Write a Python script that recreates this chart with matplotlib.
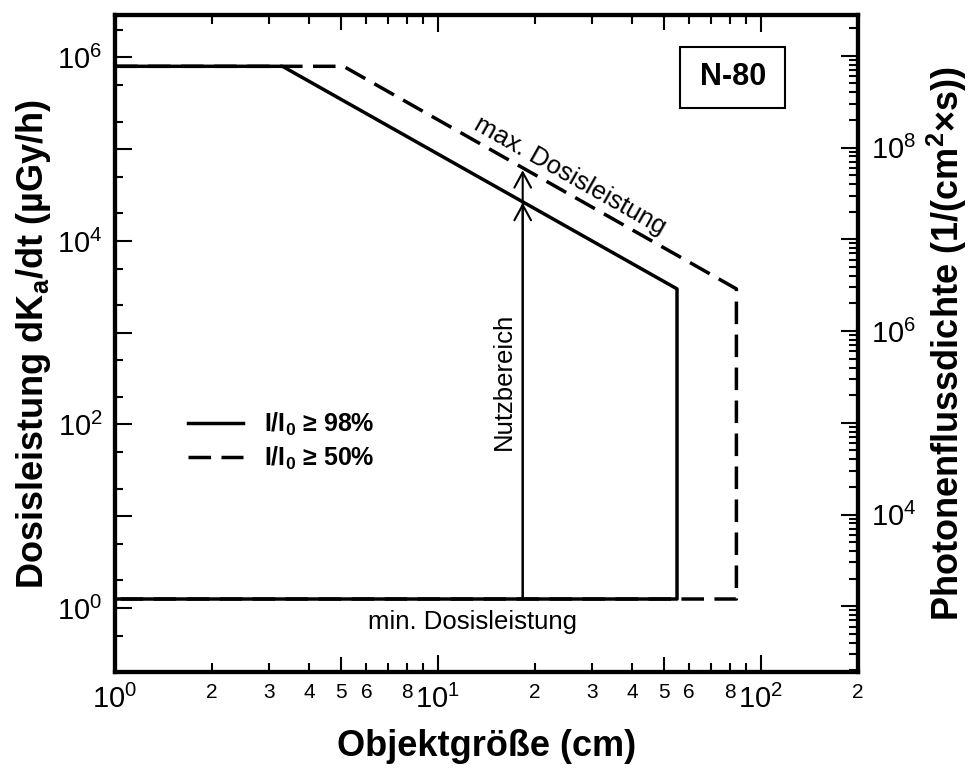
import numpy as np
import matplotlib.pyplot as plt
from matplotlib.ticker import FixedLocator, FuncFormatter, NullFormatter
from matplotlib.patches import Rectangle

plt.rcParams["font.family"] = ["Liberation Sans", "DejaVu Sans"]
plt.rcParams["mathtext.fontset"] = "custom"
plt.rcParams["mathtext.rm"] = "Liberation Sans"
plt.rcParams["mathtext.bf"] = "Liberation Sans:bold"
plt.rcParams["mathtext.it"] = "Liberation Sans:italic"
plt.rcParams["mathtext.default"] = "rm"

# Kurven (x in cm, y in uGy/h)
size_98 = [1.0, 3.3, 55.0, 55.0, 1.0]
rate_98 = [8.0e5, 8.0e5, 3.0e3, 1.25, 1.25]
size_50 = [1.0, 5.1, 84.0, 84.0, 1.0]
rate_50 = [8.0e5, 8.0e5, 3.0e3, 1.25, 1.25]
label_98 = r"I/I$_\mathbf{0}$ ≥ 98%"
label_50 = r"I/I$_\mathbf{0}$ ≥ 50%"

# Nutzbereich-Pfeil
nutz_x = 18.3
nutz_lo = 1.25
nutz_hi_98 = 2.6e4
nutz_hi_50 = 5.9e4

# Umrechnung Dosisleistung -> Photonenflussdichte
flux_factor = 960.0

x_lim = (1.0, 200.0)
y_lim = (0.2, 2.9e6)
x_minor_labeled = (2, 3, 4, 5, 6, 8)

fig = plt.figure(figsize=(9.7, 7.69), dpi=100)
ax = fig.add_axes([0.1186, 0.1261, 0.766, 0.8544])
ax.set_xscale("log")
ax.set_yscale("log")
ax.set_xlim(*x_lim)
ax.set_ylim(*y_lim)

l50, = ax.plot(size_50, rate_50, color="black", lw=2.5, dashes=(6.5, 3))
l98, = ax.plot(size_98, rate_98, color="black", lw=2.5)

for y_top in (nutz_hi_50, nutz_hi_98):
    ax.annotate("", xy=(nutz_x, y_top), xytext=(nutz_x, nutz_lo),
                arrowprops=dict(arrowstyle="->,head_length=0.55,head_width=0.3",
                                lw=1.5, color="black", shrinkA=0, shrinkB=0,
                                mutation_scale=20))

# Winkel der max.-Linie im Bild
p = ax.transData.transform([(size_50[1], rate_50[1]), (size_50[2], rate_50[2])])
ang = np.degrees(np.arctan2(p[1, 1] - p[0, 1], p[1, 0] - p[0, 0]))
ax.text(25.6, 5.15e4, "max. Dosisleistung", rotation=ang, rotation_mode="anchor",
        ha="center", va="center", fontsize=18.5)
ax.text(12.8, 0.70, "min. Dosisleistung", ha="center", va="center", fontsize=18.5)
ax.text(16.0, 297, "Nutzbereich", rotation=90, ha="center", va="center", fontsize=18.5)

# N-80 Kasten
ax.add_patch(Rectangle((0.761, 0.858), 0.141, 0.094, transform=ax.transAxes,
                       fill=False, lw=1.5, ec="black", zorder=5))
ax.text(0.8315, 0.905, "N-80", transform=ax.transAxes, ha="center", va="center",
        fontsize=22, fontweight="bold")

ax.legend(handles=[l98, l50], labels=[label_98, label_50], frameon=False,
          loc="upper left", bbox_to_anchor=(0.098, 0.398), borderaxespad=0,
          borderpad=0, handlelength=2.2, handletextpad=0.85, labelspacing=0.3,
          prop=dict(size=18, weight="bold"))

# x-Achse
x_major = [1, 10, 100]
x_minor = [d * k for d in x_major for k in range(2, 10) if d * k <= x_lim[1]]
ax.xaxis.set_major_locator(FixedLocator(x_major))
ax.xaxis.set_minor_locator(FixedLocator(x_minor))
ax.xaxis.set_major_formatter(FuncFormatter(lambda v, pos: f"$10^{{{int(round(np.log10(v)))}}}$"))

def minor_x_fmt(v, pos):
    d = int(round(v / 10 ** np.floor(np.log10(v) + 1e-9)))
    return str(d) if d in x_minor_labeled else ""

ax.xaxis.set_minor_formatter(FuncFormatter(minor_x_fmt))
ax.tick_params(axis="x", which="major", direction="in", top=True, length=12,
               width=1.5, labelsize=21, pad=9)
ax.tick_params(axis="x", which="minor", direction="in", top=True, length=6.5,
               width=1.5, labelsize=15, pad=8)

# linke y-Achse
y_major = [10.0 ** e for e in range(-1, 7)]
y_minor = [k * 10.0 ** e for e in range(-1, 7) for k in (2, 5)]
ax.yaxis.set_major_locator(FixedLocator(y_major))
ax.yaxis.set_minor_locator(FixedLocator(y_minor))

def y_left_fmt(v, pos):
    e = int(round(np.log10(v)))
    return f"$10^{{{e}}}$" if e >= 0 and e % 2 == 0 else ""

ax.yaxis.set_major_formatter(FuncFormatter(y_left_fmt))
ax.yaxis.set_minor_formatter(NullFormatter())
ax.tick_params(axis="y", which="major", direction="in", left=True, right=False,
               length=12, width=1.5, labelsize=21, pad=9)
ax.tick_params(axis="y", which="minor", direction="in", left=True, right=False,
               length=6, width=1.5)

# 5er-Ticks etwas laenger
for t, loc in zip(ax.xaxis.get_minor_ticks(len(x_minor)), x_minor):
    if round(loc / 10 ** np.floor(np.log10(loc) + 1e-9)) == 5:
        t.tick1line.set_markersize(10.5)
        t.tick2line.set_markersize(10.5)

# rechte y-Achse
ax2 = ax.twinx()
ax2.set_yscale("log")
ax2.set_ylim(y_lim[0] * flux_factor, y_lim[1] * flux_factor)
r_major = [10.0 ** e for e in range(2, 10)]
r_minor = [k * 10.0 ** e for e in range(2, 10) for k in range(2, 10)]
ax2.yaxis.set_major_locator(FixedLocator(r_major))
ax2.yaxis.set_minor_locator(FixedLocator(r_minor))

def y_right_fmt(v, pos):
    e = int(round(np.log10(v)))
    return f"$10^{{{e}}}$" if e in (4, 6, 8) else ""

ax2.yaxis.set_major_formatter(FuncFormatter(y_right_fmt))
ax2.yaxis.set_minor_formatter(NullFormatter())
ax2.tick_params(axis="y", which="major", direction="in", length=12, width=1.5,
                labelsize=21, pad=9)
ax2.tick_params(axis="y", which="minor", direction="in", length=6.5, width=1.5)

for a in (ax, ax2):
    for s in a.spines.values():
        s.set_linewidth(3)

ax.set_xlabel("Objektgröße (cm)", fontsize=26, fontweight="bold", va="center")
ax.xaxis.set_label_coords(0.5, -0.114)
ax.set_ylabel(r"Dosisleistung dK$_\mathbf{a}$/dt (µGy/h)", fontsize=26,
              fontweight="bold", va="center")
ax.yaxis.set_label_coords(-0.110, 0.5)
ax2.set_ylabel(r"Photonenflussdichte (1/(cm$^\mathbf{2}$×s))", fontsize=26,
               fontweight="bold", va="center", rotation=90)
ax2.yaxis.set_label_coords(1.12, 0.5)

fig.savefig("out.png", dpi=100)
